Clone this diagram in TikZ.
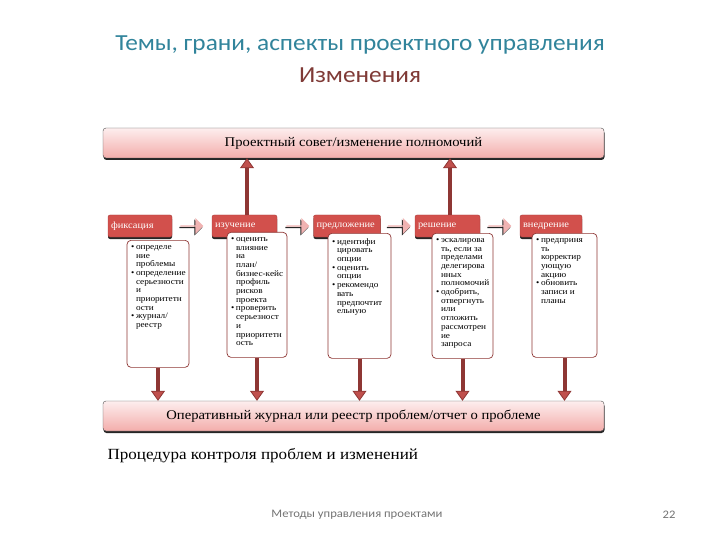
\documentclass[tikz,border=0pt]{standalone}
\usepackage{fontspec}
\setmainfont{Liberation Serif}[FakeStretch=1.1]
\newfontfamily\calibri{Carlito}[FakeStretch=1.1]
\usetikzlibrary{positioning,shadows,shapes.arrows,arrows.meta}

\definecolor{titleteal}{HTML}{31849B}
\definecolor{titlered}{HTML}{7F3A36}
\definecolor{darkred}{HTML}{8E3634}
\definecolor{tipred}{HTML}{C0504D}
\definecolor{tabred}{HTML}{D2504C}
\definecolor{barpink}{HTML}{F3ADAB}
\definecolor{barlight}{HTML}{FDEEEE}
\definecolor{flowpink}{HTML}{F0B3B2}

\newcommand\pitem[1]{\par\hangindent=5pt\hangafter=1\noindent\makebox[5pt][l]{\textbullet}#1}

\tikzset{
    bar/.style={draw=black!70, rounded corners=3pt, top color=barlight, bottom color=barpink,
        minimum width=501pt, minimum height=30pt, font=\fontsize{13.3}{15}\selectfont,
        drop shadow={shadow xshift=0.5pt, shadow yshift=-2pt, opacity=1, fill=black!85}},
    phase/.style={rounded corners=2pt, fill=tabred, draw=tabred!80!black, line width=0.4pt,
        text=white, minimum height=22pt, inner sep=3pt, align=left, font=\fontsize{9.5}{11}\selectfont,
        drop shadow={shadow xshift=0pt, shadow yshift=-2pt, opacity=1, fill=black!85}},
    stepbox/.style={draw=darkred, fill=white, rounded corners=4pt, line width=0.7pt,
        inner xsep=4pt, inner ysep=5pt, anchor=north, font=\fontsize{8.4}{8.7}\selectfont},
    flowarrow/.style={single arrow, fill=flowpink, minimum height=23pt, minimum width=16pt,
        single arrow head extend=2.5pt, inner sep=0pt,
        drop shadow={shadow xshift=-1pt, shadow yshift=-1.5pt, opacity=1, fill=black!85}},
    link/.style={draw=darkred, line width=4pt,
        -{Triangle[width=14pt,length=10pt,line width=0.8pt,fill=tipred]}}
}

\begin{document}
\begin{tikzpicture}[x=1pt,y=-1pt]
    \useasboundingbox (0,0) rectangle (720,540);

    \node[text=titleteal, font=\calibri\fontsize{23}{26}\selectfont] (title) at (360,45) {Темы, грани, аспекты проектного управления};
    \node[text=titlered, font=\calibri\fontsize{23}{26}\selectfont] (subtitle) at (360,75) {Изменения};

    \node[bar] (council) at (353.5,143) {Проектный совет/изменение полномочий};
    \node[bar] (log) at (353.5,416) {Оперативный журнал или реестр проблем/отчет о проблеме};

    \node[phase, text width=58pt] (capture) at (140,226) {фиксация};
    \node[phase, text width=59pt] (examine) at (244.5,226) {изучение};
    \node[phase, text width=61pt] (propose) at (347,226) {предложение};
    \node[phase, text width=59pt] (decide) at (447.5,226) {решение};
    \node[phase, text width=56pt] (apply) at (551,226) {внедрение};

    \node[flowarrow, right=8pt of capture] (f1) {};
    \node[flowarrow, right=9pt of examine] (f2) {};
    \node[flowarrow, right=7pt of propose] (f3) {};
    \node[flowarrow, right=8pt of decide] (f4) {};

    \node[stepbox] (box1) at (158,240) {\parbox[t][117pt][t]{54pt}{%
        \pitem{определе\\ние\\проблемы}
        \pitem{определение\\серьезности\\и\\приоритетн\\ости}
        \pitem{журнал/\\реестр}}};
    \node[stepbox] (box2) at (257,232) {\parbox[t][115pt][t]{52pt}{%
        \pitem{оценить\\влияние\\на\\план/\\\mbox{бизнес-кейс}\\профиль\\рисков\\проекта}
        \pitem{проверить\\серьезност\\и\\приоритетн\\ость}}};
    \node[stepbox] (box3) at (359.5,233) {\parbox[t][115pt][t]{55pt}{%
        \pitem{идентифи\\цировать\\опции}
        \pitem{оценить\\опции}
        \pitem{рекомендо\\вать\\предпочтит\\ельную}}};
    \node[stepbox] (box4) at (462.5,233) {\parbox[t][115pt][t]{53pt}{%
        \pitem{эскалирова\\ть, если за\\пределами\\делегирова\\нных\\полномочий}
        \pitem{одобрить,\\отвергнуть\\или\\отложить\\рассмотрен\\ие\\запроса}}};
    \node[stepbox] (box5) at (564.5,233) {\parbox[t][114pt][t]{57pt}{%
        \pitem{предприня\\ть\\корректир\\ующую\\акцию}
        \pitem{обновить\\записи и\\планы}}};

    \draw[link] ([xshift=2.5pt]examine.north) -- ([xshift=2.5pt]examine.north |- council.south);
    \draw[link] ([xshift=2.5pt]decide.north) -- ([xshift=2.5pt]decide.north |- council.south);

    \foreach \b in {box1,box2,box3,box4,box5}
        \draw[link] (\b.south) -- (\b.south |- log.north);

    \node[anchor=west, font=\fontsize{15.5}{18}\selectfont] (caption) at (104,456) {Процедура контроля проблем и изменений};

    \node[text=black!55, font=\calibri\fontsize{11.5}{13}\selectfont] (footer) at (357,515) {Методы управления проектами};
    \node[text=black!55, font=\calibri\fontsize{11.5}{13}\selectfont] (page) at (669,515) {22};
\end{tikzpicture}
\end{document}
